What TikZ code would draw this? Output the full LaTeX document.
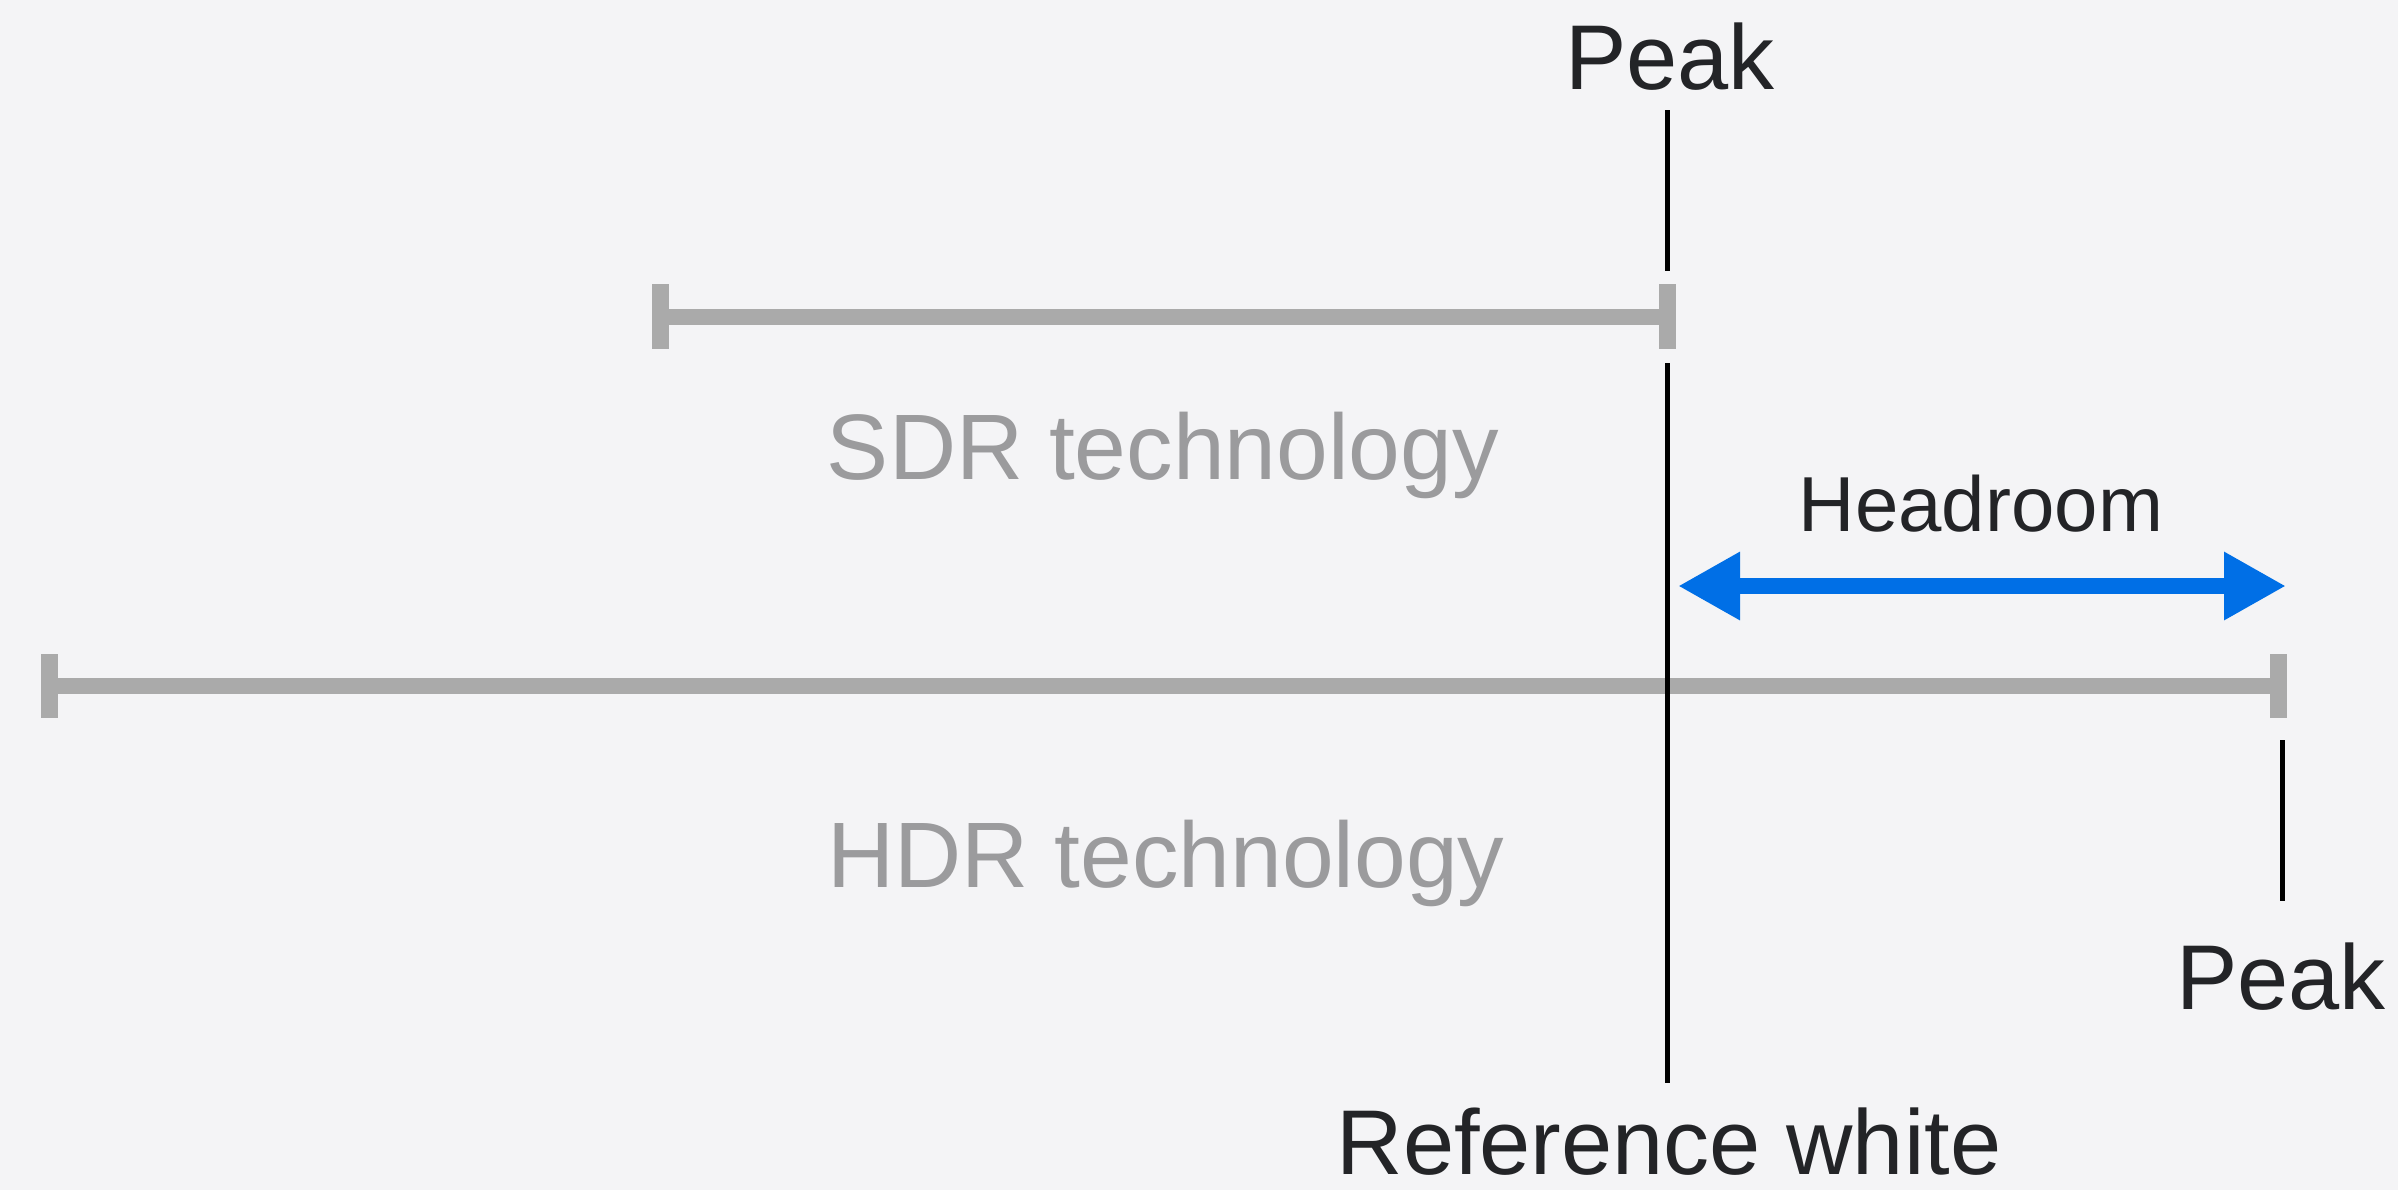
\documentclass[tikz,border=0pt]{standalone}
\usepackage{fontspec}
\setmainfont{Liberation Sans}
\usetikzlibrary{arrows.meta}
\definecolor{bg}{HTML}{F4F4F6}
\definecolor{bargray}{HTML}{AAAAAA}
\definecolor{labelgray}{HTML}{9B9B9D}
\definecolor{ink}{HTML}{232427}
\definecolor{accent}{HTML}{006FE6}
\tikzset{
  range bar/.style={draw=bargray, line width=8pt},
  range tick/.style={draw=bargray, line width=8.3pt},
  marker/.style={draw=black, line width=2.5pt},
  biglabel/.style={text=ink, font=\fontsize{46pt}{50pt}\selectfont, anchor=base, inner sep=0pt},
  graylabel/.style={text=labelgray, font=\fontsize{46.5pt}{50pt}\selectfont, anchor=base, inner sep=0pt},
  smalllabel/.style={text=ink, font=\fontsize{39pt}{44pt}\selectfont, anchor=base, inner sep=0pt},
  headroom arrow/.style={draw=accent, line width=8pt,
    {Triangle[length=31pt,width=32pt]}-{Triangle[length=31pt,width=32pt]}}
}
\begin{document}
\begin{tikzpicture}[x=0.5pt, y=-0.5pt]
  % canvas
  \fill[bg] (0,0) rectangle (2398,1190);
  \useasboundingbox (0,0) rectangle (2398,1190);

  % key positions
  \coordinate (sdrL) at (652,316.5);
  \coordinate (sdrR) at (1676,316.5);
  \coordinate (hdrL) at (41,686);
  \coordinate (hdrR) at (2287,686);
  \coordinate (peakTopA) at (1667.5,110);
  \coordinate (peakTopB) at (1667.5,271);
  \coordinate (refA) at (1667.5,363);
  \coordinate (refB) at (1667.5,1083);
  \coordinate (peakHdrA) at (2282,740);
  \coordinate (peakHdrB) at (2282,901);
  \coordinate (hrL) at (1678,586);
  \coordinate (hrR) at (2286,586);

  % SDR range
  \draw[range bar] (sdrL) -- (sdrR);
  \draw[range tick] ([xshift=4.2pt]sdrL |- 0,284) -- ([xshift=4.2pt]sdrL |- 0,349);
  \draw[range tick] ([xshift=-4.2pt]sdrR |- 0,284) -- ([xshift=-4.2pt]sdrR |- 0,349);

  % HDR range
  \draw[range bar] (hdrL) -- (hdrR);
  \draw[range tick] ([xshift=4.2pt]hdrL |- 0,654) -- ([xshift=4.2pt]hdrL |- 0,718);
  \draw[range tick] ([xshift=-4.2pt]hdrR |- 0,654) -- ([xshift=-4.2pt]hdrR |- 0,718);

  % markers
  \draw[marker] (peakTopA) -- (peakTopB);
  \draw[marker] (refA) -- (refB);
  \draw[marker] (peakHdrA) -- (peakHdrB);

  % headroom span
  \draw[headroom arrow] (hrL) -- (hrR);

  % labels
  \node[biglabel] (peakTop) at (1670,89) {Peak};
  \node[graylabel] (sdr) at (1163,479) {SDR technology};
  \node[smalllabel] (headroom) at (1981,531) {Headroom};
  \node[graylabel] (hdr) at (1166,887) {HDR technology};
  \node[biglabel] (peakHdr) at (2281,1009) {Peak};
  \node[biglabel] (refwhite) at (1669,1174) {Reference white};
\end{tikzpicture}
\end{document}
